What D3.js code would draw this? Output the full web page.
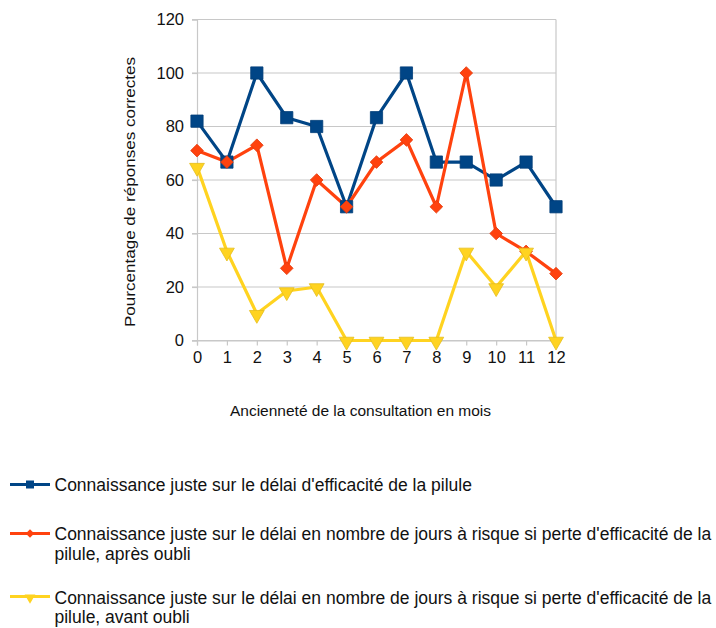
<!DOCTYPE html>
<html>
<head>
<meta charset="utf-8">
<script src="https://cdn.jsdelivr.net/npm/d3@7"></script>
<style>
  html, body { margin: 0; padding: 0; background: #fff; }
  svg { display: block; font-family: "Liberation Sans", Arial, sans-serif; }
</style>
</head>
<body>
<svg id="chart" width="716" height="628"></svg>
<script>
// Months since consultation
const months = [0, 1, 2, 3, 4, 5, 6, 7, 8, 9, 10, 11, 12];

// Percentage of correct answers per series
const delaiEfficacite = [82, 66.7, 100, 83.3, 80, 50, 83.3, 100, 66.7, 66.7, 60, 66.7, 50];
const joursApresOubli = [71, 66.7, 73, 27, 60, 50, 66.7, 75, 50, 100, 40, 33.3, 25];
const joursAvantOubli = [65, 33.3, 10, 18.5, 20, 0, 0, 0, 0, 33.3, 20, 33.3, 0];

const yTicks = [0, 20, 40, 60, 80, 100, 120];

const seriesNames = [
  ["Connaissance juste sur le délai d'efficacité de la pilule"],
  ["Connaissance juste sur le délai en nombre de jours à risque si perte d'efficacité de la", "pilule, après oubli"],
  ["Connaissance juste sur le délai en nombre de jours à risque si perte d'efficacité de la", "pilule, avant oubli"]
];

const series = [
  { values: delaiEfficacite, color: "#004586", symbol: d3.symbolSquare, size: 150, legendSize: 64, rot: 0 },
  { values: joursApresOubli, color: "#ff420e", symbol: d3.symbolSquare, size: 80, legendSize: 36, rot: 45 },
  { values: joursAvantOubli, color: "#ffd320", symbol: d3.symbolTriangle, size: 95, legendSize: 50, rot: 180 }
];

const svg = d3.select("#chart");
const plot = { left: 197, right: 556, top: 19.5, bottom: 340.5 };

const x = d3.scaleLinear().domain([0, 12]).range([plot.left, plot.right]);
const y = d3.scaleLinear().domain([0, 120]).range([plot.bottom, plot.top]);

// Horizontal gridlines
svg.append("g")
  .selectAll("line")
  .data(yTicks)
  .join("line")
  .attr("x1", plot.left - 5)
  .attr("x2", plot.right)
  .attr("y1", d => y(d))
  .attr("y2", d => y(d))
  .attr("stroke", "#c8c8c8")
  .attr("stroke-width", 1.2);

// Right border of plot area
svg.append("line")
  .attr("x1", plot.right).attr("x2", plot.right)
  .attr("y1", plot.top).attr("y2", plot.bottom)
  .attr("stroke", "#c8c8c8").attr("stroke-width", 1.2);

// Y axis
const yAxis = svg.append("g")
  .attr("transform", `translate(${plot.left},0)`)
  .call(d3.axisLeft(y).tickValues(yTicks).tickSize(5).tickPadding(8));
yAxis.select(".domain").attr("stroke", "#c8c8c8").attr("stroke-width", 1.2);
yAxis.selectAll(".tick line").attr("stroke", "#c8c8c8").attr("stroke-width", 1.2);
yAxis.selectAll("text").attr("font-size", 16.5).attr("fill", "#111")
  .attr("font-family", "Liberation Sans, Arial, sans-serif");

// X axis
const xAxis = svg.append("g")
  .attr("transform", `translate(0,${plot.bottom})`)
  .call(d3.axisBottom(x).tickValues(months).tickFormat(d3.format("d")).tickSize(5).tickPadding(6));
xAxis.select(".domain").attr("stroke", "#c8c8c8").attr("stroke-width", 1.2);
xAxis.selectAll(".tick line").attr("stroke", "#c8c8c8").attr("stroke-width", 1.2);
xAxis.selectAll("text").attr("font-size", 16.5).attr("fill", "#111")
  .attr("font-family", "Liberation Sans, Arial, sans-serif");

// Axis titles
svg.append("text")
  .attr("transform", `translate(135,192) rotate(-90)`)
  .attr("text-anchor", "middle")
  .attr("font-size", 15.5)
  .attr("textLength", 270)
  .attr("lengthAdjust", "spacingAndGlyphs")
  .attr("fill", "#111")
  .text("Pourcentage de réponses correctes");

svg.append("text")
  .attr("x", 360.5)
  .attr("y", 415.5)
  .attr("text-anchor", "middle")
  .attr("font-size", 15.5)
  .attr("fill", "#111")
  .text("Ancienneté de la consultation en mois");

// Lines and markers
const line = d3.line()
  .x((d, i) => x(months[i]))
  .y(d => y(d));

series.forEach(s => {
  svg.append("path")
    .datum(s.values)
    .attr("fill", "none")
    .attr("stroke", s.color)
    .attr("stroke-width", 3.2)
    .attr("stroke-linejoin", "round")
    .attr("d", line);
});

series.forEach(s => {
  const sym = d3.symbol().type(s.symbol).size(s.size);
  svg.append("g")
    .selectAll("path")
    .data(s.values)
    .join("path")
    .attr("d", sym)
    .attr("transform", (d, i) => {
      let cy = y(d);
      if (s.rot === 180) cy += 1;
      return `translate(${x(months[i])},${cy}) rotate(${s.rot})`;
    })
    .attr("fill", s.color)
    .attr("stroke", d3.color(s.color).darker(0.3))
    .attr("stroke-width", 0.8);
});

// Legend: symbol row y and text baselines
const legendRows = [484.5, 533.5, 596.5];
const legendBaselines = [[490.5], [540, 559.5], [603.5, 622.5]];
series.forEach((s, k) => {
  const g = svg.append("g");
  g.append("line")
    .attr("x1", 10).attr("x2", 50)
    .attr("y1", legendRows[k]).attr("y2", legendRows[k])
    .attr("stroke", s.color).attr("stroke-width", 3);
  g.append("path")
    .attr("d", d3.symbol().type(s.symbol).size(s.legendSize))
    .attr("transform", `translate(30,${legendRows[k] + (s.rot === 180 ? 1 : 0)}) rotate(${s.rot})`)
    .attr("fill", s.color);
  seriesNames[k].forEach((txt, j) => {
    g.append("text")
      .attr("x", 54.5)
      .attr("y", legendBaselines[k][j])
      .attr("font-size", 17.5)
      .attr("fill", "#111")
      .text(txt);
  });
});
</script>
</body>
</html>
